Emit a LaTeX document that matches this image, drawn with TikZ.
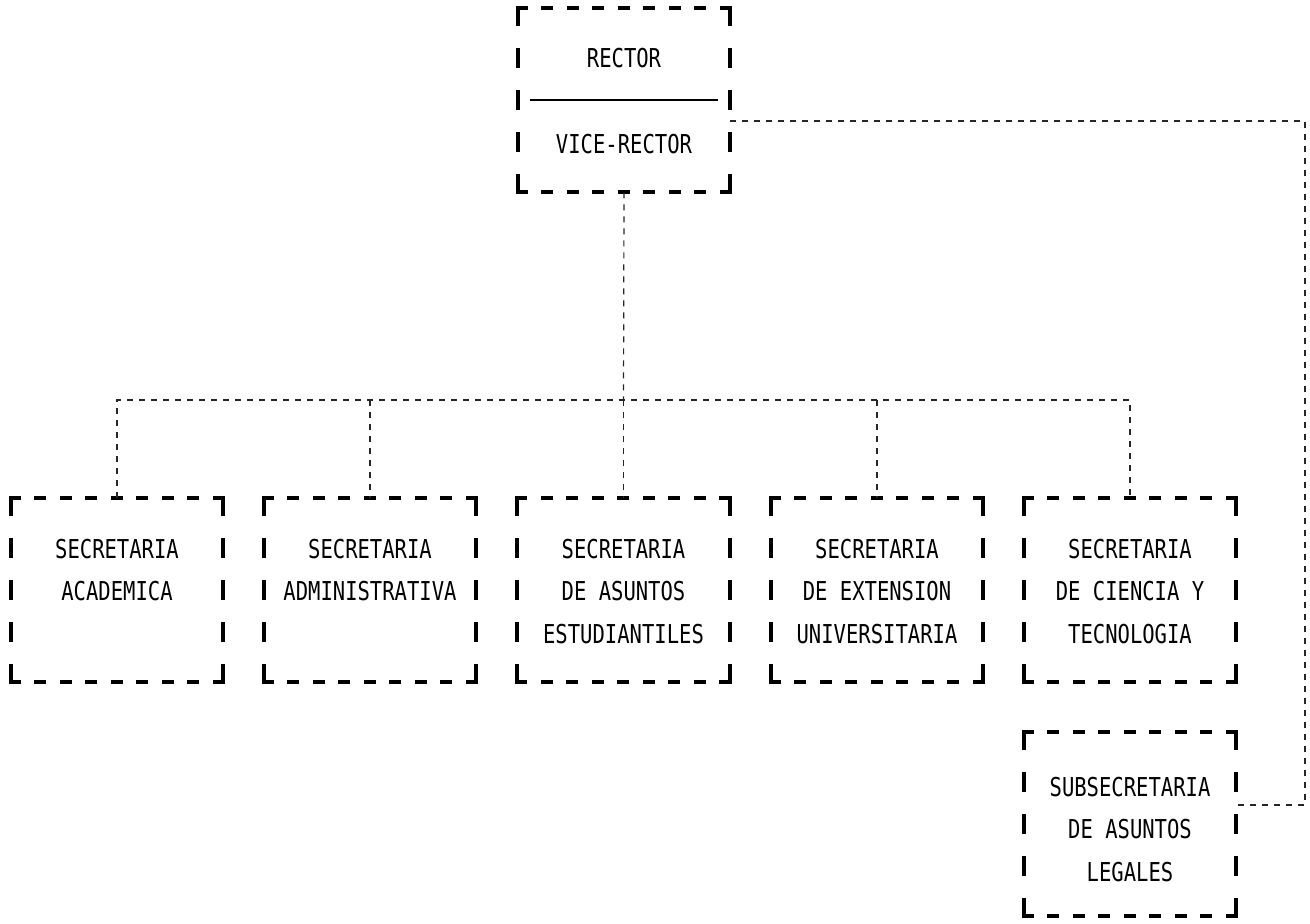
\documentclass[tikz,border=0pt]{standalone}
\usepackage{fontspec}
\newfontfamily\printfont[FakeStretch=0.79]{DejaVu Sans Mono}

\begin{document}
\begin{tikzpicture}[x=0.5pt,y=-0.5pt,
	box/.style={minimum width=106pt,minimum height=92pt,inner sep=0pt},
	lbl/.style={font=\printfont\fontsize{13}{21.25}\selectfont,align=center,inner sep=0pt},
	hside/.style={line width=2pt,line cap=rect,dash pattern=on 4pt off 8.75pt},
	vside/.style={line width=2pt,line cap=rect,dash pattern=on 8pt off 13pt},
	link/.style={line width=0.6pt,black!85,dash pattern=on 3pt off 3pt}]
	
	\useasboundingbox (0,0) rectangle (1310,924);
	
	% Rector box
	\node[box] (chief) at (624,100) {};
	\node[lbl] (rname) at (624,58) {RECTOR};
	\node[lbl] (vname) at (624,144) {VICE-RECTOR};
	\draw[line width=0.8pt] ([xshift=6pt]chief.west) -- ([xshift=-6pt]chief.east);
	
	% Secretarias
	\node[box] (acad) at (117,590) {};
	\node[box] (admin) at (370,590) {};
	\node[box] (estud) at (623.5,590) {};
	\node[box] (ext) at (877,590) {};
	\node[box] (cyt) at (1130,590) {};
	\node[box] (legal) at (1130,824) {};
	
	\node[lbl,anchor=north] (acadtxt) at (117,538.5) {SECRETARIA\\ACADEMICA};
	\node[lbl,anchor=north] (admintxt) at (370,538.5) {SECRETARIA\\ADMINISTRATIVA};
	\node[lbl,anchor=north] (estudtxt) at (623.5,538.5) {SECRETARIA\\DE ASUNTOS\\ESTUDIANTILES};
	\node[lbl,anchor=north] (exttxt) at (877,538.5) {SECRETARIA\\DE EXTENSION\\UNIVERSITARIA};
	\node[lbl,anchor=north] (cyttxt) at (1130,538.5) {SECRETARIA\\DE CIENCIA Y\\TECNOLOGIA};
	\node[lbl,anchor=north] (legaltxt) at (1130,776.5) {SUBSECRETARIA\\DE ASUNTOS\\LEGALES};
	
	% Dashed borders
	\foreach \n in {chief,acad,admin,estud,ext,cyt,legal}{
		\draw[hside] (\n.north west) -- (\n.north east);
		\draw[hside] (\n.south west) -- (\n.south east);
		\draw[vside] (\n.north west) -- (\n.south west);
		\draw[vside] (\n.north east) -- (\n.south east);
	}
	
	% Connectors
	\coordinate (hub) at (623.5,400);
	\draw[link] (chief.south) -- (hub);
	\draw[link] (acad.north) -- (acad.north |- hub) -- (cyt.north |- hub) -- (cyt.north);
	\foreach \n in {admin,estud,ext}{
		\draw[link] (\n.north |- hub) -- (\n.north);
	}
	\coordinate (bend) at (1305,805);
	\draw[link] ([yshift=-10.5pt]chief.east) -| (bend) -- (legal.east |- bend);
	
\end{tikzpicture}
\end{document}
